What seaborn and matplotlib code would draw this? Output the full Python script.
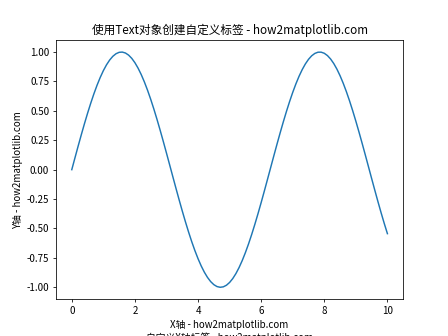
import matplotlib
matplotlib.use("Agg")
import matplotlib.pyplot as plt
import seaborn as sns
import pandas as pd

plt.rcParams['font.family'] = ['Noto Sans CJK SC', 'DejaVu Sans']
plt.rcParams['axes.unicode_minus'] = False

x_values = [i / 10 for i in range(101)]
y_values = [0.0000, 0.0998, 0.1987, 0.2955, 0.3894, 0.4794, 0.5646, 0.6442, 0.7174, 0.7833,
            0.8415, 0.8912, 0.9320, 0.9636, 0.9854, 0.9975, 0.9996, 0.9917, 0.9738, 0.9463,
            0.9093, 0.8632, 0.8085, 0.7457, 0.6755, 0.5985, 0.5155, 0.4274, 0.3350, 0.2392,
            0.1411, 0.0416, -0.0584, -0.1577, -0.2555, -0.3508, -0.4425, -0.5298, -0.6119, -0.6878,
            -0.7568, -0.8183, -0.8716, -0.9162, -0.9516, -0.9775, -0.9937, -0.9999, -0.9962, -0.9825,
            -0.9589, -0.9258, -0.8835, -0.8323, -0.7728, -0.7055, -0.6313, -0.5507, -0.4646, -0.3739,
            -0.2794, -0.1822, -0.0831, 0.0168, 0.1165, 0.2151, 0.3115, 0.4048, 0.4941, 0.5784,
            0.6570, 0.7290, 0.7937, 0.8504, 0.8987, 0.9380, 0.9679, 0.9882, 0.9985, 0.9989,
            0.9894, 0.9699, 0.9407, 0.9022, 0.8546, 0.7985, 0.7344, 0.6630, 0.5849, 0.5010,
            0.4121, 0.3191, 0.2229, 0.1245, 0.0248, -0.0752, -0.1743, -0.2718, -0.3665, -0.4575,
            -0.5440]

title = '使用Text对象创建自定义标签 - how2matplotlib.com'
xlabel = 'X轴 - how2matplotlib.com'
ylabel = 'Y轴 - how2matplotlib.com'
extra_label = '自定义X轴标签 - how2matplotlib.com'

df = pd.DataFrame({'x': x_values, 'y': y_values})

fig, ax = plt.subplots(figsize=(6.4, 4.8), dpi=70)
sns.lineplot(data=df, x='x', y='y', ax=ax, color='#1f77b4')
ax.set_title(title)
ax.set_xlabel(xlabel)
ax.set_ylabel(ylabel)
ax.text(0.5, -0.15, extra_label, transform=ax.transAxes, ha='center', va='center')
fig.savefig('out.png', dpi=70)
